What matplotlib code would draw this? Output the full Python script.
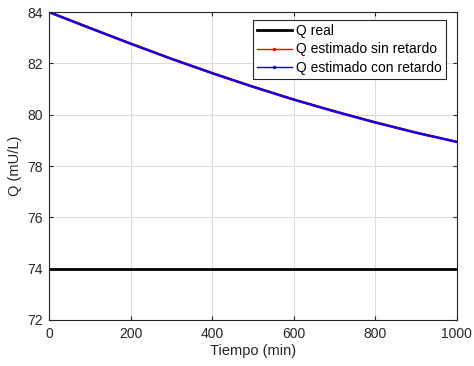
import matplotlib

matplotlib.use("Agg")

import matplotlib.pyplot as plt
from matplotlib.lines import Line2D

plt.rcParams["font.family"] = ["Liberation Sans", "DejaVu Sans"]

tiempo = [0, 100, 200, 300, 400, 500, 600, 700, 800, 900, 1000]
q_real = [74.0, 74.0, 74.0, 74.0, 74.0, 74.0, 74.0, 74.0, 74.0, 74.0, 74.0]
q_sin_retardo = [84.0, 83.38, 82.77, 82.18, 81.62, 81.09, 80.59, 80.13, 79.70, 79.30, 78.94]
q_con_retardo = [84.0, 83.38, 82.77, 82.18, 81.62, 81.09, 80.59, 80.13, 79.70, 79.30, 78.94]

fig = plt.figure(figsize=(4.74, 3.66), dpi=100)
ax = fig.add_axes([0.1034, 0.1257, 0.8606, 0.8413])

ax.plot(tiempo, q_real, color="black", linewidth=2)
ax.plot(tiempo, q_sin_retardo, color="red", linewidth=1.9)
ax.plot(tiempo, q_con_retardo, color="blue", linewidth=1.6)

ax.set_xlim(0, 1000)
ax.set_ylim(72, 84)
ax.set_xticks(range(0, 1001, 200))
ax.set_yticks(range(72, 85, 2))
ax.grid(True, color="#dcdcdc", linewidth=0.8)
ax.set_axisbelow(True)
ax.tick_params(direction="in", top=True, right=True, labelsize=10, colors="#262626",
               length=3)
ax.tick_params(axis="x", pad=5)
ax.tick_params(axis="y", pad=4.5)
for spine in ax.spines.values():
    spine.set_color("#262626")
    spine.set_linewidth(0.8)

ax.set_xlabel("Tiempo (min)", fontsize=10.5, color="#262626", labelpad=2)
ax.set_ylabel("Q (mU/L)", fontsize=10.5, color="#262626", labelpad=4)

handles = [
    Line2D([], [], color="black", linewidth=2),
    Line2D([], [], color="red", linewidth=1, marker=".", markersize=3),
    Line2D([], [], color="blue", linewidth=1, marker=".", markersize=3),
]
labels = ["Q real", "Q estimado sin retardo", "Q estimado con retardo"]
leg = ax.legend(handles, labels, loc="upper right", bbox_to_anchor=(0.973, 0.974),
                fontsize=10, fancybox=False, framealpha=1, edgecolor="#262626",
                handlelength=2.5, handletextpad=0.3, borderpad=0.3,
                labelspacing=0.3, borderaxespad=0.0)
leg.get_frame().set_linewidth(0.8)

fig.savefig("out.png", dpi=100)
plt.close(fig)
